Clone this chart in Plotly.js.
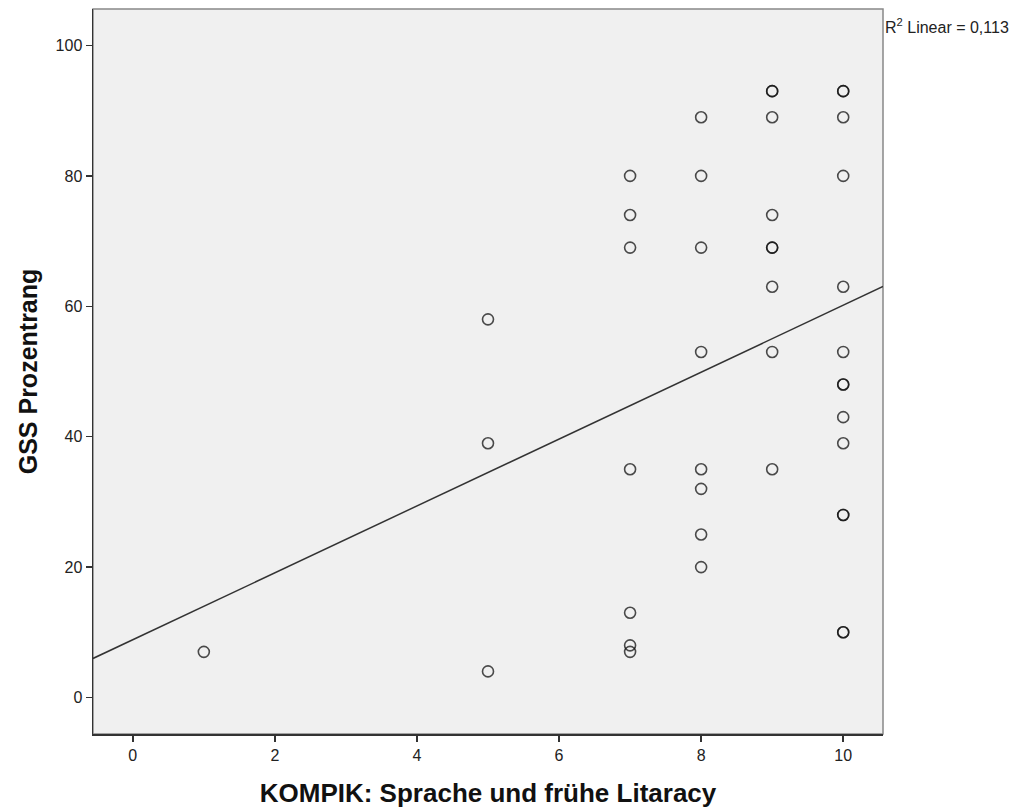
<!DOCTYPE html>
<html>
<head>
<meta charset="utf-8">
<script src="https://cdn.plot.ly/plotly-3.0.1.min.js"></script>
<style>html,body{margin:0;padding:0;background:#fff;}#chart{width:1030px;height:811px;}</style>
</head>
<body>
<div id="chart"></div>
<script>
// KOMPIK score (x) and GSS Prozentrang (y); repeated pairs are overlapping cases
const kompik = [1,
  5,5,5,
  7,7,7,7,7,7,7,
  8,8,8,8,8,8,8,8,
  9,9,9,9,9,9,9,9,9,
  10,10,10,10,10,10,10,10,10,10,10,10,10,10];
const gss = [7,
  58,39,4,
  80,74,69,35,13,8,7,
  89,80,69,53,35,32,25,20,
  93,93,89,74,69,69,63,53,35,
  93,93,89,80,63,53,48,48,43,39,28,28,10,10];
const fitIntercept = 8.86;
const fitSlope = 5.13;
const rSquaredLabel = "R<sup>2</sup> Linear = 0,113";
const xTicks = [0,2,4,6,8,10];
const yTicks = [0,20,40,60,80,100];
const xRange = [-0.56, 10.56];
const yRange = [-5.6, 105.6];

const fitX = [xRange[0], xRange[1]];
const fitY = fitX.map(v => fitIntercept + fitSlope * v);

const font = "Liberation Sans, Arial, sans-serif";

const traces = [
  {
    x: fitX, y: fitY, type: 'scatter', mode: 'lines',
    line: {color: '#333', width: 1.5}, hoverinfo: 'skip', showlegend: false
  },
  {
    x: kompik, y: gss, type: 'scatter', mode: 'markers',
    marker: {symbol: 'circle-open', size: 11, color: '#111', opacity: 0.75, line: {width: 1.6}},
    showlegend: false
  }
];

const layout = {
  width: 1030, height: 811,
  margin: {l: 93, r: 147, t: 9, b: 77},
  paper_bgcolor: '#ffffff',
  plot_bgcolor: '#f0f0f0',
  font: {family: font, size: 16, color: '#222'},
  showlegend: false,
  xaxis: {
    range: xRange, tickvals: xTicks, ticktext: xTicks.map(String),
    showgrid: false, zeroline: false,
    showline: true, linecolor: '#333', linewidth: 1.5,
    ticks: 'outside', ticklen: 6, tickwidth: 1.5, tickcolor: '#333',
    tickfont: {family: font, size: 16, color: '#222'},
    title: {text: 'KOMPIK: Sprache und frühe Litaracy', font: {family: font, size: 26, color: '#111', weight: 'bold'}, standoff: 21}
  },
  yaxis: {
    range: yRange, tickvals: yTicks, ticktext: yTicks.map(String),
    showgrid: false, zeroline: false,
    showline: true, linecolor: '#333', linewidth: 1.5,
    ticks: 'outside', ticklen: 6, tickwidth: 1.5, tickcolor: '#333',
    tickfont: {family: font, size: 16, color: '#222'},
    title: {text: 'GSS Prozentrang', font: {family: font, size: 25, color: '#111', weight: 'bold'}, standoff: 11}
  },
  shapes: [{
    type: 'rect', xref: 'paper', yref: 'paper', x0: 0, x1: 1, y0: 0, y1: 1,
    line: {color: '#888', width: 1.5}, layer: 'below'
  }],
  annotations: [{
    xref: 'paper', yref: 'paper', x: 1, y: 1, xanchor: 'left', yanchor: 'top',
    xshift: 0, yshift: -5,
    text: rSquaredLabel, showarrow: false,
    font: {family: font, size: 16, color: '#222'}
  }]
};

Plotly.newPlot('chart', traces, layout, {displayModeBar: false, staticPlot: true});
</script>
</body>
</html>
